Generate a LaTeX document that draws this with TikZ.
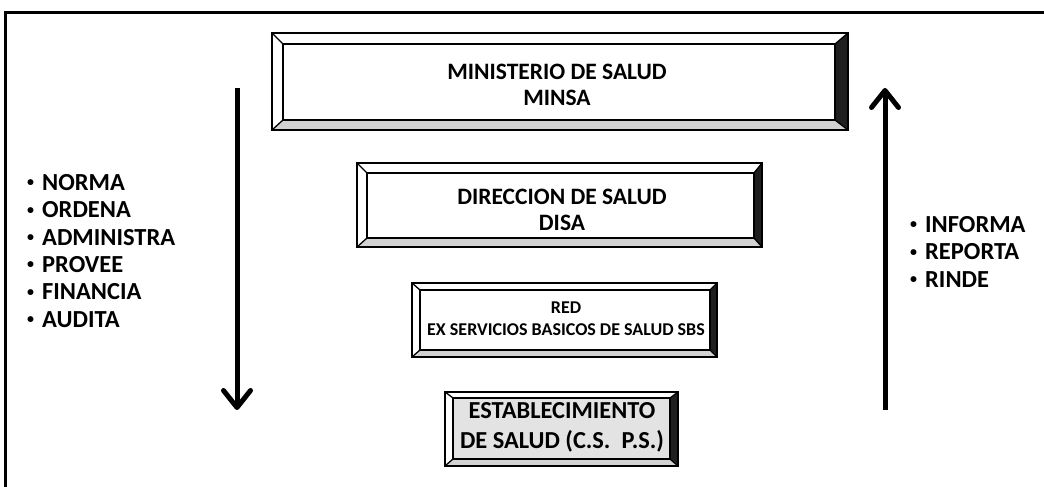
\documentclass[tikz,border=0pt]{standalone}
\usepackage{fontspec}
\setmainfont{Carlito}
\usetikzlibrary{arrows.meta}
\newcommand{\bul}{\raisebox{3.5pt}{\fontsize{14}{14}\selectfont •}\hspace{8pt}}
\tikzset{
  frame/.style={line width=3pt},
  bigarrow/.style={line width=5pt,-{Straight Barb[length=17pt,width=27pt,round]}},
  outline/.style={draw=black,line width=1.3pt},
  boxtext/.style={align=center,inner sep=0pt},
  listtext/.style={font=\bfseries\fontsize{24.5}{27.4}\selectfont,align=left,anchor=north west,inner sep=0pt},
}
% \bevelbox{x1}{y1}{x2}{y2}{l}{t}{r}{b}{inner fill}
\newcommand{\bevelbox}[9]{%
  \fill[white] (#1,#2) rectangle (#3,#4);
  \fill[#9] ({#1+#5},{#2+#6}) rectangle ({#3-#7},{#4-#8});
  \fill[black!88] (#3,#2) -- (#3,#4) -- ({#3-#7},{#4-#8}) -- ({#3-#7},{#2+#6}) -- cycle;
  \fill[gray!35] (#1,#4) -- (#3,#4) -- ({#3-#7},{#4-#8}) -- ({#1+#5},{#4-#8}) -- cycle;
  \draw[outline] (#1,#2) rectangle (#3,#4);
  \draw[outline] ({#1+#5},{#2+#6}) rectangle ({#3-#7},{#4-#8});
  \draw[outline] (#1,#2) -- ({#1+#5},{#2+#6});
  \draw[outline] (#3,#2) -- ({#3-#7},{#2+#6});
  \draw[outline] (#1,#4) -- ({#1+#5},{#4-#8});
  \draw[outline] (#3,#4) -- ({#3-#7},{#4-#8});
}
\begin{document}
\begin{tikzpicture}[x=1pt,y=-1pt]
\useasboundingbox[fill=white] (0,0) rectangle (1044,487);
% frame
\draw[frame] (5,487) -- (5,12.5) -- (1044,12.5);
% boxes
\bevelbox{272}{33}{848}{130}{11}{11}{13}{10}{white}
\node[boxtext,font=\bfseries\fontsize{23.5}{26}\selectfont] (minsa) at (557,85) {MINISTERIO DE SALUD\\MINSA};
\bevelbox{357}{163}{762}{247}{10}{10}{8}{9}{white}
\node[boxtext,font=\bfseries\fontsize{23.5}{26}\selectfont] (disa) at (562,210) {DIRECCION DE SALUD\\DISA};
\bevelbox{412}{283}{717}{357}{8}{7}{7}{7}{white}
\node[boxtext,font=\bfseries\fontsize{18}{22}\selectfont] (red) at (566,319) {RED\\EX SERVICIOS BASICOS DE SALUD SBS};
\bevelbox{445}{392}{678}{466}{8}{6}{8}{7}{gray!22}
\node[boxtext,font=\bfseries\fontsize{24.4}{30}\selectfont] (es) at (562,427) {ESTABLECIMIENTO\\DE SALUD (C.S.~~P.S.)};
% arrows
\coordinate (dtop) at (237,88);
\coordinate (dbot) at (237,410);
\draw[bigarrow] (dtop) -- (dbot);
\coordinate (ubot) at (885,410);
\coordinate (utop) at (885,88);
\draw[bigarrow] (ubot) -- (utop);
% lists
\node[listtext] (down) at (27,174) {\bul NORMA\\\bul ORDENA\\\bul ADMINISTRA\\\bul PROVEE\\\bul FINANCIA\\\bul AUDITA};
\node[listtext] (up) at (910,216) {\bul INFORMA\\\bul REPORTA\\\bul RINDE};
\end{tikzpicture}
\end{document}
